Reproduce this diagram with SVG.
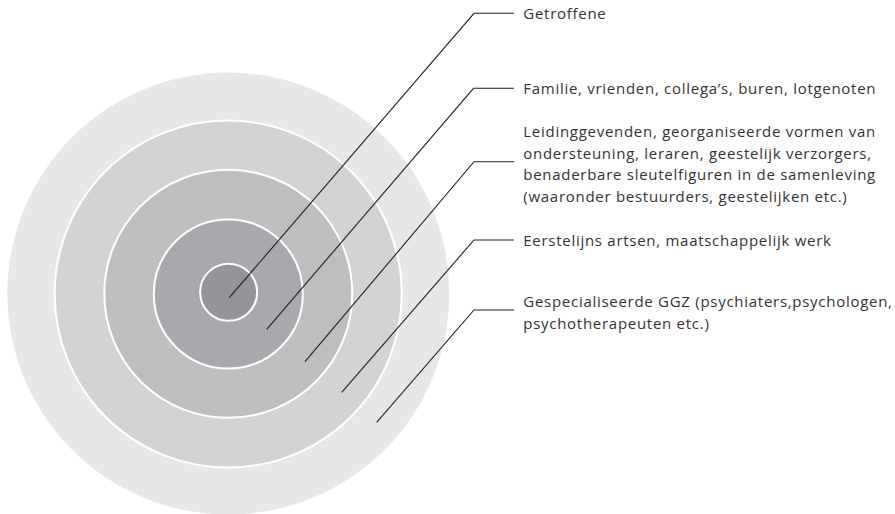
<svg xmlns="http://www.w3.org/2000/svg" width="895" height="514" viewBox="0 0 895 514">
  <style>
    .ring { stroke: #ffffff; stroke-width: 2; }
    .lead { fill: none; stroke: #231f20; stroke-width: 1.1; }
    .lbl { font-family: "Open Sans", "Noto Sans", "Liberation Sans", sans-serif; font-size: 15px; letter-spacing: 0.72px; fill: #333333; }
  </style>
  <rect width="895" height="514" fill="#ffffff"/>
  <g id="rings">
    <g id="ring-gespecialiseerd"><circle cx="228.3" cy="293.6" r="221" fill="#e6e7e8"/></g>
    <g id="ring-eerstelijns"><circle class="ring" cx="228.2" cy="294" r="173.5" fill="#d1d3d4"/></g>
    <g id="ring-leidinggevenden"><circle class="ring" cx="228.3" cy="293.8" r="124" fill="#bcbec0"/></g>
    <g id="ring-familie"><circle class="ring" cx="228.3" cy="294" r="74.5" fill="#a7a9ac"/></g>
    <g id="ring-getroffene"><circle class="ring" cx="228.6" cy="292.3" r="28.5" fill="#939598"/></g>
  </g>
  <g id="connectors">
    <polyline class="lead" points="229.3,297.7 474,13.3 514,13.3"/>
    <polyline class="lead" points="266.7,329.3 473.5,88.3 514,88.3"/>
    <polyline class="lead" points="305,361.7 474,161.7 514,161.7"/>
    <polyline class="lead" points="341.7,392.3 474,240 514,240"/>
    <polyline class="lead" points="376.7,422.3 474,310 514,310"/>
  </g>
  <g id="label-getroffene"><text class="lbl" x="523.3" y="19">Getroffene</text></g>
  <g id="label-familie"><text class="lbl" x="523.3" y="93.5">Familie, vrienden, collega’s, buren, lotgenoten</text></g>
  <g id="label-leidinggevenden">
    <text class="lbl" x="523.3" y="136.8">Leidinggevenden, georganiseerde vormen van</text>
    <text class="lbl" x="523.3" y="158.5">ondersteuning, leraren, geestelijk verzorgers,</text>
    <text class="lbl" x="523.3" y="180.2">benaderbare sleutelfiguren in de samenleving</text>
    <text class="lbl" x="523.3" y="201.9">(waaronder bestuurders, geestelijken etc.)</text>
  </g>
  <g id="label-eerstelijns"><text class="lbl" x="523.3" y="245.5">Eerstelijns artsen, maatschappelijk werk</text></g>
  <g id="label-ggz">
    <text class="lbl" x="523.3" y="307">Gespecialiseerde GGZ (psychiaters,psychologen,</text>
    <text class="lbl" x="523.3" y="328.7">psychotherapeuten etc.)</text>
  </g>
</svg>
